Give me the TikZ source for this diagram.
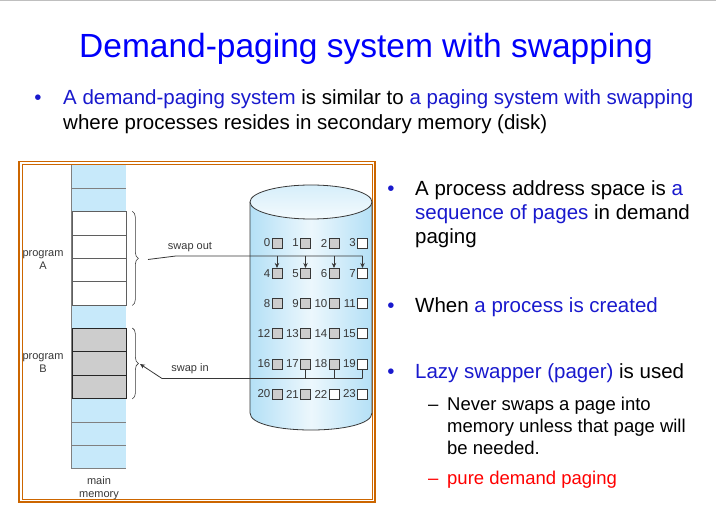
\documentclass[tikz,border=0pt]{standalone}
\usepackage{fontspec}
\setmainfont{Liberation Sans}
\usetikzlibrary{positioning,decorations.pathreplacing,arrows.meta}

\definecolor{titleblue}{RGB}{0,0,250}
\definecolor{keyblue}{RGB}{25,25,205}
\definecolor{framebrown}{RGB}{204,102,0}
\definecolor{memblue}{RGB}{199,233,250}
\definecolor{diskblue}{RGB}{180,224,246}
\definecolor{pagegray}{RGB}{205,205,205}
\definecolor{inkgray}{RGB}{55,55,55}

\tikzset{
  freeslot/.style={rectangle, minimum width=54pt, minimum height=23.4pt, fill=memblue, inner sep=0pt},
  pageA/.style={freeslot, fill=white, draw=inkgray!80, line width=0.7pt},
  pageB/.style={freeslot, fill=pagegray, draw=black!85, line width=0.8pt},
  diskpage/.style={rectangle, minimum size=10pt, inner sep=0pt, draw=inkgray, line width=0.5pt},
  pagenum/.style={font=\fontsize{11.5}{11.5}\selectfont, text=inkgray, inner sep=0pt},
  figlabel/.style={font=\fontsize{11}{13}\selectfont, text=inkgray, align=center, inner sep=0pt},
  titletext/.style={font=\fontsize{33.5}{40}\selectfont, text=titleblue, anchor=base, inner sep=0pt},
  slide/.style={font=\fontsize{20.5}{24}\selectfont, anchor=base west, align=left, inner sep=0pt},
  subslide/.style={font=\fontsize{18.5}{22}\selectfont, anchor=base west, align=left, inner sep=0pt},
  bulletdot/.style={font=\fontsize{20.5}{24}\selectfont, text=keyblue, anchor=base, inner sep=0pt},
  wire/.style={inkgray, line width=0.8pt},
}

\begin{document}
\begin{tikzpicture}[x=1pt, y=-1pt, >={Stealth[length=5pt,width=4.5pt]}]
\useasboundingbox (0,0) rectangle (716,518);
\draw[black!25, line width=1.5pt] (0,0.75) -- (716,0.75);

\node (title) at (366,58) [titletext] {Demand-paging system with swapping};
\node (b0) at (38,105) [bulletdot] {•};
\node (intro) at (63,130) [slide, font=\fontsize{20.5}{25}\selectfont] {\textcolor{keyblue}{A demand-paging system} is similar to \textcolor{keyblue}{a paging system with swapping}\\where processes resides in secondary memory (disk)};

\draw[framebrown, line width=1.4pt] (19,161.5) rectangle (375,502);
\draw[framebrown, line width=0.9pt] (22,164.5) rectangle (372.5,499.5);

% main memory
\foreach \i in {0,1,6,10,11,12}
  \node (m\i) at (99,{165+23.35*(\i+0.5)}) [freeslot] {};
\foreach \i in {0,10,11,12}
  \draw[gray, line width=0.8pt] (m\i.south west) -- (m\i.south east);
\foreach \i in {2,...,5}
  \node (m\i) at (99,{165+23.35*(\i+0.5)}) [pageA] {};
\foreach \i in {7,8,9}
  \node (m\i) at (99,{165+23.35*(\i+0.5)}) [pageB] {};
\draw[gray, line width=0.8pt] (m0.north west) -- (m12.south west);

\node (progA) at (43,260) [figlabel] {program\\A};
\node (progB) at (43,363.5) [figlabel] {program\\B};
\node (mainmem) at (99,488) [figlabel] {main\\memory};

\draw[inkgray, line width=0.6pt, decorate, decoration={brace, amplitude=6pt}] ([xshift=6pt]m2.north east) -- ([xshift=6pt]m5.south east);
\draw[inkgray, line width=0.6pt, decorate, decoration={brace, amplitude=6pt}] ([xshift=6pt]m7.north east) -- ([xshift=6pt]m9.south east);

% backing store
\shade[left color=diskblue, right color=diskblue, middle color=diskblue!25] (250,202) -- (250,413) .. controls (250,435.7) and (372,435.7) .. (372,413) -- (372,202) -- cycle;
\draw[inkgray, line width=0.8pt] (250,202) -- (250,413) .. controls (250,435.7) and (372,435.7) .. (372,413) -- (372,202);
\shade[top color=diskblue!55, bottom color=diskblue!15] (311,202) ellipse [x radius=61, y radius=17];
\draw[inkgray, line width=0.8pt] (311,202) ellipse [x radius=61, y radius=17];

\foreach \i in {0,...,23}{
  \pgfmathtruncatemacro{\r}{\i/4}
  \pgfmathtruncatemacro{\c}{mod(\i,4)}
  \def\pagefill{pagegray}
  \ifnum\c=3 \def\pagefill{white}\fi
  \ifnum\i=22 \def\pagefill{white}\fi
  \node (s\i) at ({277+28.5*\c},{243+30.2*\r}) [diskpage, fill=\pagefill] {};
  \node (n\i) [pagenum, left=1.2pt of s\i] {\i};
}

\coordinate (outA) at (148,259.5);
\coordinate (outbend) at (176,256);
\draw[wire] (outA) -- (outbend) -- (outbend -| s7.north);
\foreach \k in {4,...,7}
  \draw[wire, ->] (outbend -| s\k.north) -- (s\k.north);
\node (swapout) at (190,247) [figlabel] {swap out};

\coordinate (inbend) at (162,378.5);
\coordinate (inB) at (140,364);
\foreach \k in {17,18,19}
  \draw[wire] (s\k.south) -- (inbend -| s\k.south);
\draw[wire, ->] (inbend -| s19.south) -- (inbend) -- (inB);
\node (swapin) at (190,369) [figlabel] {swap in};

% right column
\node (b1) at (391,196) [bulletdot] {•};
\node (space) at (415,244) [slide] {A process address space is \textcolor{keyblue}{a}\\\textcolor{keyblue}{sequence of pages} in demand\\paging};
\node (b2) at (391,312.5) [bulletdot] {•};
\node (created) at (415,312.5) [slide] {When \textcolor{keyblue}{a process is created}};
\node (b3) at (391,379) [bulletdot] {•};
\node (lazy) at (415,379) [slide] {\textcolor{keyblue}{Lazy swapper (pager)} is used};
\node (d1) at (428,410.5) [subslide] {–};
\node (never) at (447,454.5) [subslide] {Never swaps a page into\\memory unless that page will\\be needed.};
\node (d2) at (428,485) [subslide, text=red] {–};
\node (pure) at (447,485) [subslide, text=red] {pure demand paging};
\end{tikzpicture}
\end{document}
